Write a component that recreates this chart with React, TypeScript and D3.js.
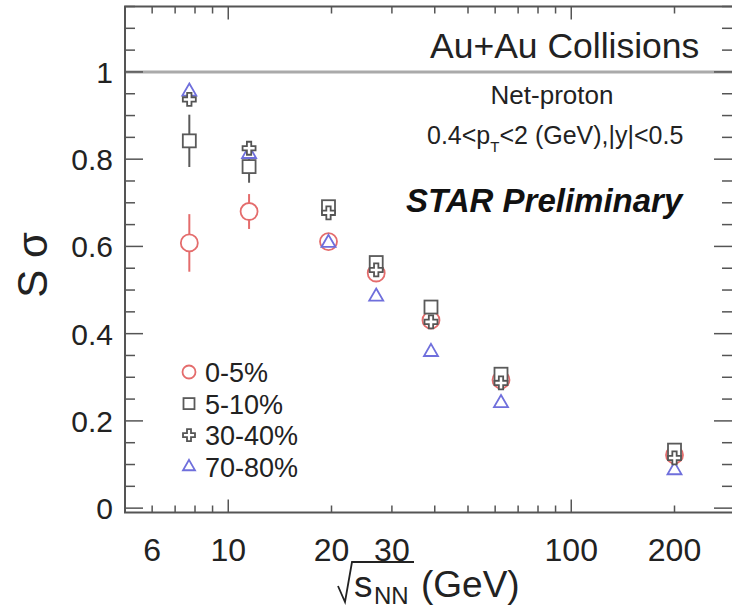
import React from 'react';
import * as d3 from 'd3';

const energies = [7.7, 11.5, 19.6, 27, 39, 62.4, 200];
const labels = ['0-5%', '5-10%', '30-40%', '70-80%'];
const val0_5 = [0.608, 0.68, 0.611, 0.539, 0.431, 0.294, 0.122];
const err0_5 = [0.066, 0.04, 0.012, 0.01, 0.01, 0.008, 0.006];
const val5_10 = [0.842, 0.783, 0.691, 0.563, 0.461, 0.307, 0.133];
const err5_10 = [0.06, 0.037, 0.012, 0.01, 0.01, 0.008, 0.006];
const val30_40 = [0.937, 0.825, 0.677, 0.546, 0.427, 0.287, 0.115];
const err30_40 = [0.012, 0.01, 0.006, 0.005, 0.005, 0.004, 0.003];
const val70_80 = [0.955, 0.812, 0.608, 0.485, 0.358, 0.241, 0.087];
const err70_80 = [0.01, 0.008, 0.005, 0.004, 0.004, 0.003, 0.003];
const xTickLabels = [6, 10, 20, 30, 100, 200];
const yTickLabels = [0, 0.2, 0.4, 0.6, 0.8, 1];

const W = 732;
const H = 608;
const FONT = "'Liberation Sans', Arial, sans-serif";

const x = d3.scaleLog().domain([5, 300]).range([125, 125 + 343 * Math.log10(60)]);
const y = d3.scaleLinear().domain([-0.01, 1.15]).range([512.5, 6.5]);

const colors = ['#e46c6c', '#5a5a5a', '#555555', '#6f6fdc'];
const shapes = ['circle', 'square', 'cross', 'triangle'];
const vals = [val0_5, val5_10, val30_40, val70_80];
const errs = [err0_5, err5_10, err30_40, err70_80];

function Marker({ shape, cx, cy, s, color }: { shape: string; cx: number; cy: number; s: number; color: string }) {
  const sw = 1.8;
  if (shape === 'circle') {
    return <circle cx={cx} cy={cy} r={s / 2} fill="white" stroke={color} strokeWidth={sw} />;
  }
  if (shape === 'square') {
    return <rect x={cx - s / 2} y={cy - s / 2} width={s} height={s} fill="white" stroke={color} strokeWidth={sw} />;
  }
  if (shape === 'cross') {
    const p = d3.symbol().type(d3.symbolCross).size(5 * (s / 3) * (s / 3))();
    return <path d={p || ''} transform={`translate(${cx},${cy})`} fill="white" stroke={color} strokeWidth={sw} />;
  }
  const p = d3.symbol().type(d3.symbolTriangle).size((s * s * Math.sqrt(3)) / 4)();
  return <path d={p || ''} transform={`translate(${cx},${cy})`} fill="white" stroke={color} strokeWidth={sw} />;
}

const sizes = [17, 13, 13, 14];
const legendSizes = [13, 11, 12, 12];

export default function App() {
  const xMinor = x.ticks().filter((t) => t >= 5 && t <= 300);
  const yMinor = d3.range(0, 1.1501, 0.05);
  const left = 125;
  const right = 735;
  const top = 6.5;
  const bottom = 512.5;
  const axisColor = '#555';
  const textColor = '#222';
  return (
    <svg width={W} height={H} style={{ position: 'absolute', left: 0, top: 0, background: 'white' }} fontFamily={FONT}>
      <rect x={0} y={0} width={W} height={H} fill="white" />
      {/* y = 1 reference line */}
      <line x1={left} x2={right} y1={y(1)} y2={y(1)} stroke="#aaa" strokeWidth={3} />
      {/* frame */}
      <rect x={left} y={top} width={right - left} height={bottom - top} fill="none" stroke={axisColor} strokeWidth={2} />
      {/* x ticks */}
      {xMinor.map((t, i) => {
        const major = Math.abs(Math.log10(t) - Math.round(Math.log10(t))) < 1e-9;
        const len = major ? 13 : 7;
        return (
          <g key={'xt' + i}>
            <line x1={x(t)} x2={x(t)} y1={bottom} y2={bottom - len} stroke={axisColor} strokeWidth={1.5} />
            <line x1={x(t)} x2={x(t)} y1={top} y2={top + len} stroke={axisColor} strokeWidth={1.5} />
          </g>
        );
      })}
      {/* y ticks */}
      {yMinor.map((t, i) => {
        const major = Math.abs(t * 5 - Math.round(t * 5)) < 1e-6;
        const len = major ? 18 : 10;
        return (
          <g key={'yt' + i}>
            <line x1={left} x2={left + len} y1={y(t)} y2={y(t)} stroke={axisColor} strokeWidth={1.5} />
            <line x1={right} x2={right - len - 3} y1={y(t)} y2={y(t)} stroke={axisColor} strokeWidth={1.5} />
          </g>
        );
      })}
      {/* y tick labels */}
      {yTickLabels.map((t) => (
        <text key={'yl' + t} x={113} y={y(t) + 11} textAnchor="end" fontSize={30} fill={textColor}>
          {String(t)}
        </text>
      ))}
      {/* x tick labels */}
      {xTickLabels.map((t) => (
        <text key={'xl' + t} x={x(t)} y={561} textAnchor="middle" fontSize={32} fill={textColor}>
          {String(t)}
        </text>
      ))}
      {/* x title */}
      <path d="M338,586 L345,602 L352,562 L414,562" fill="none" stroke={textColor} strokeWidth={1.8} />
      <text x={354} y={597} fontSize={37} fill={textColor}>s</text>
      <text x={374} y={604} fontSize={24} fill={textColor}>NN</text>
      <text x={421} y={597} fontSize={37} fill={textColor}>(GeV)</text>
      {/* y title */}
      <text transform="translate(47,265) rotate(-90)" textAnchor="middle" fontSize={42} fill={textColor}>S σ</text>
      {/* annotations */}
      <text x={430} y={58} fontSize={35.5} fill={textColor}>Au+Au Collisions</text>
      <text x={552} y={104} textAnchor="middle" fontSize={26} fill={textColor}>Net-proton</text>
      <text x={427} y={144} fontSize={25} fill={textColor}>
        0.4&lt;p<tspan fontSize={15} dy={8}>T</tspan><tspan dy={-8}>&lt;2 (GeV),|y|&lt;0.5</tspan>
      </text>
      <text x={406} y={212} fontSize={33} fontWeight="bold" fontStyle="italic" fill="#111">STAR Preliminary</text>
      {/* data: error bars */}
      {vals.map((vs, si) =>
        vs.map((v, i) => (
          <line
            key={`e${si}-${i}`}
            x1={x(energies[i])}
            x2={x(energies[i])}
            y1={y(v - errs[si][i])}
            y2={y(v + errs[si][i])}
            stroke={colors[si]}
            strokeWidth={2}
          />
        ))
      )}
      {/* data: markers */}
      {[0, 3, 1, 2].map((si) =>
        vals[si].map((v, i) => (
          <Marker key={`m${si}-${i}`} shape={shapes[si]} cx={x(energies[i])} cy={y(v)} s={sizes[si]} color={colors[si]} />
        ))
      )}
      {/* legend */}
      {labels.map((lab, i) => {
        const ly = 372 + i * 31.6;
        return (
          <g key={'lg' + i}>
            <Marker shape={shapes[i]} cx={189} cy={ly} s={legendSizes[i]} color={colors[i]} />
            <text x={205} y={ly + 10} fontSize={27} fill={textColor}>{lab}</text>
          </g>
        );
      })}
    </svg>
  );
}
